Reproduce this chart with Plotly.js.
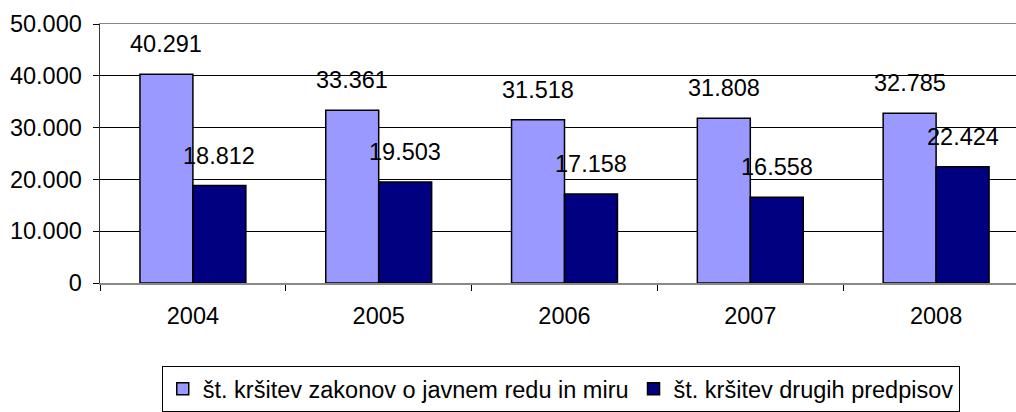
<!DOCTYPE html>
<html>
<head>
<meta charset="utf-8">
<script src="https://cdn.plot.ly/plotly-3.0.1.min.js"></script>
<style>html,body{margin:0;padding:0;background:#fff;}#chart{width:1016px;height:412px;}</style>
</head>
<body>
<div id="chart"></div>
<script>
const years = ['2004', '2005', '2006', '2007', '2008'];
const seriesNames = ['št. kršitev zakonov o javnem redu in miru', 'št. kršitev drugih predpisov'];
const publicOrder = [40291, 33361, 31518, 31808, 32785];
const otherRegs = [18812, 19503, 17158, 16558, 22424];
const yTickVals = [0, 10000, 20000, 30000, 40000, 50000];

const FONT = 'Arial, "Liberation Sans", sans-serif';
const FS = 23.5;
function fmt(v) {
  const th = Math.floor(v / 1000), rest = v % 1000;
  return th > 0 ? th + '.' + String(rest).padStart(3, '0') : String(rest);
}

const traces = [
  {type: 'bar', name: seriesNames[0], x: years, y: publicOrder,
   marker: {color: '#9999FF', line: {color: '#000000', width: 1.5}}, hoverinfo: 'x+y'},
  {type: 'bar', name: seriesNames[1], x: years, y: otherRegs,
   marker: {color: '#000080', line: {color: '#000000', width: 1.5}}, hoverinfo: 'x+y'}
];

const plotW = 1016 - 100;
const catPx = plotW / 4.93;
const barPx = catPx * (1 - 0.43) / 2;
const annotations = [];
[publicOrder, otherRegs].forEach((arr, s) => {
  arr.forEach((v, i) => {
    annotations.push({x: i, y: v, xref: 'x', yref: 'y', text: fmt(v), showarrow: false,
      xshift: (s === 0 ? -1 : 1) * barPx / 2, yshift: 30, yanchor: 'middle', xanchor: 'center',
      font: {family: FONT, size: FS, color: '#000'}});
  });
});

const layout = {
  width: 1016, height: 412,
  margin: {l: 100, r: 0, t: 24, b: 125, pad: 0},
  paper_bgcolor: '#ffffff', plot_bgcolor: '#ffffff',
  separators: ',.',
  barmode: 'group', bargap: 0.43, bargroupgap: 0,
  showlegend: true,
  font: {family: FONT, size: FS, color: '#000'},
  xaxis: {type: 'category', range: [-0.5, 4.43], showgrid: false, zeroline: false,
    showline: true, linecolor: '#888888', linewidth: 1.5, mirror: true,
    ticks: 'outside', tickson: 'boundaries', ticklen: 6, tickcolor: '#000', tickwidth: 1,
    ticklabelstandoff: 11, tickfont: {family: FONT, size: FS, color: '#000'}},
  yaxis: {range: [0, 50000], tickvals: yTickVals, tickformat: ',d', showgrid: true,
    gridcolor: '#000000', gridwidth: 1, zeroline: false,
    showline: true, linecolor: '#333333', linewidth: 1.5,
    ticks: 'outside', ticklen: 6, tickcolor: '#000', tickwidth: 1,
    ticklabelstandoff: 6, tickfont: {family: FONT, size: FS, color: '#000'}},
  legend: {orientation: 'h', x: 0.503, xanchor: 'center', y: -0.323, yanchor: 'top',
    bordercolor: '#000', borderwidth: 1, bgcolor: '#fff', itemwidth: 30,
    font: {family: FONT, size: FS, color: '#000'}, traceorder: 'normal'},
  annotations: annotations
};

Plotly.newPlot('chart', traces, layout, {displayModeBar: false, staticPlot: true});
</script>
</body>
</html>
